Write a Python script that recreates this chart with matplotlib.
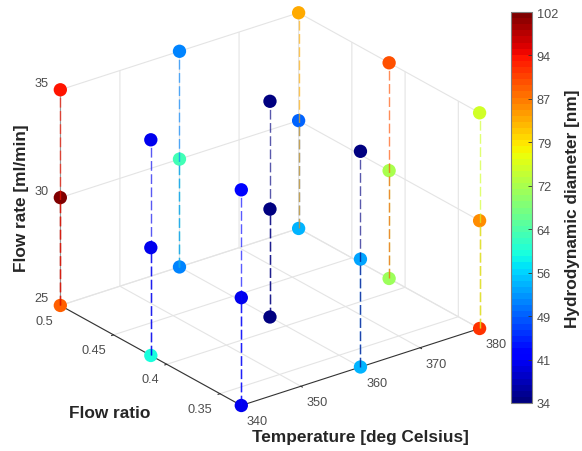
import numpy as np
import matplotlib
matplotlib.use('Agg')
import matplotlib.pyplot as plt
from matplotlib.cm import ScalarMappable
from matplotlib.colors import Normalize

plt.rcParams['font.family'] = ['Liberation Sans', 'DejaVu Sans']
plt.rcParams['grid.color'] = '#e4e4e4'
plt.rcParams['grid.linewidth'] = 0.8

temperature = [340]*9 + [360]*9 + [380]*9
flow_ratio = ([0.5]*3 + [0.415]*3 + [0.33]*3)*3
flow_rate = [25, 30, 35]*9
diameter = [89, 102, 94, 60, 41, 41, 41, 41, 43,
            51, 63, 51, 35, 34, 34, 55, 54, 34,
            55, 49, 83, 71, 72, 90, 92, 85, 75]

temp_ticks = [340, 350, 360, 370, 380]
ratio_ticks = [0.35, 0.4, 0.45, 0.5]
ratio_labels = ['0.35', '0.4', '0.45', '0.5']
rate_ticks = [25, 30, 35]
cbar_labels = ['34', '41', '49', '56', '64', '72', '79', '87', '94', '102']

W, H = 582, 452
fig = plt.figure(figsize=(W/100, H/100), dpi=100)
S = 471
cx, cy = 263.6, H - 216.5
ax = fig.add_axes([(cx - S/2)/W, (cy - S/2)/H, S/W, S/H], projection='3d',
                  computed_zorder=False)
ax.patch.set_alpha(0)
ax.set_proj_type('ortho')
ax.view_init(elev=25, azim=-127.4)
ax.set_box_aspect((300, 298, 238), zoom=1.0)

cmap = plt.get_cmap('jet', 64)
norm = Normalize(34, 102)

ax.scatter(temperature, flow_ratio, flow_rate, c=diameter, cmap=cmap, norm=norm,
           s=92, depthshade=False, linewidths=0, alpha=1, zorder=3)
for t, r, q, d in zip(temperature, flow_ratio, flow_rate, diameter):
    ax.plot([t, t], [r, r], [25, q], color=cmap(norm(d)), lw=1, alpha=0.65,
            dashes=(7, 2.5), zorder=4)

ax.set_xlim(340, 380, view_margin=0)
ax.set_ylim(0.33, 0.5, view_margin=0)
ax.set_zlim(25, 35, view_margin=0)
ax.set_xticks(temp_ticks)
ax.set_yticks(ratio_ticks)
ax.set_yticklabels(ratio_labels)
ax.set_zticks(rate_ticks)

for axis in (ax.xaxis, ax.yaxis, ax.zaxis):
    axis.set_pane_color((1, 1, 1, 0))
    axis.pane.set_edgecolor('#d9d9d9')
    axis.line.set_color('#333333')
    axis.line.set_linewidth(0.8)
    axis._axinfo['tick']['inward_factor'] = 0.1
    axis._axinfo['tick']['outward_factor'] = 0
ax.zaxis.line.set_color('#999999')
ax.tick_params(axis='both', labelsize=9.2, labelcolor='#4d4d4d', color='#333333', width=0.6)
ax.tick_params(axis='x', pad=-2.5)
ax.tick_params(axis='y', pad=-2.5)
ax.tick_params(axis='z', pad=0)
for lab in ax.get_xticklabels():
    lab.set_ha('left')
for lab in ax.get_yticklabels():
    lab.set_ha('right')
for lab in ax.get_zticklabels():
    lab.set_va('bottom')

fig.text(360/W, 1 - 438/H, 'Temperature [deg Celsius]', fontsize=12.4, fontweight='bold',
         color='#262626', ha='center', va='center')
fig.text(110/W, 1 - 414/H, 'Flow ratio', fontsize=12.4, fontweight='bold',
         color='#262626', ha='center', va='center')
fig.text(21.5/W, 1 - 198/H, 'Flow rate [ml/min]', fontsize=12.4, fontweight='bold',
         color='#262626', ha='center', va='center', rotation=90)

cax = fig.add_axes([511/W, 1 - 404/H, 21/W, 391/H])
cb = fig.colorbar(ScalarMappable(norm=norm, cmap=cmap), cax=cax)
cb.set_ticks(np.linspace(34, 102, len(cbar_labels)))
cb.set_ticklabels(cbar_labels)
cb.ax.tick_params(direction='in', length=3, width=0.6, color='#333333',
                  labelsize=9.2, labelcolor='#4d4d4d', pad=3.5)
cb.outline.set_edgecolor('#808080')
cb.outline.set_linewidth(0.8)
fig.text(572.5/W, 1 - 209/H, 'Hydrodynamic diameter [nm]', fontsize=12.4, fontweight='bold',
         color='#262626', ha='center', va='center', rotation=90)

fig.savefig('out.png', dpi=100)
